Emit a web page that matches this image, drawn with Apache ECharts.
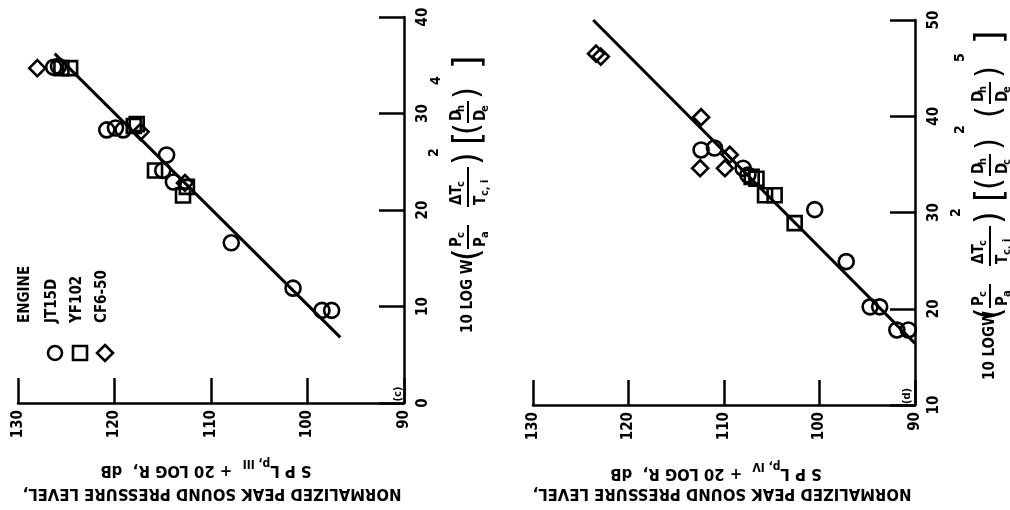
<!DOCTYPE html>
<html><head><meta charset="utf-8">
<script src="https://cdn.jsdelivr.net/npm/echarts@6/dist/echarts.min.js"></script>
<style>html,body{margin:0;padding:0;background:#fff}#c{width:1010px;height:510px}</style>
</head><body><div id="c"></div>
<script>
// ---- data: [SPL (dB), 10 log W(...) parameter] ----
const splTicks = [90, 100, 110, 120, 130];
const c_jt15d = [[126.3,34.8],[125.8,34.9],[120.8,28.3],[119.9,28.5],[119.1,28.3],[114.6,25.7],[115.0,24.1],[113.9,22.9],[107.9,16.6],[101.5,11.9],[98.5,9.6],[97.5,9.6]];
const c_yf102 = [[125.5,34.7],[124.6,34.7],[118.0,28.7],[117.7,28.9],[115.8,24.1],[112.9,21.5],[112.5,22.4]];
const c_cf650 = [[128.0,34.7],[117.3,28.1],[112.7,22.8]];
const c_fit   = [[126.2,36.2],[96.6,6.8]];

const d_jt15d = [[112.4,36.5],[111.0,36.7],[108.0,34.6],[107.5,33.9],[100.5,30.3],[97.2,24.9],[94.7,20.2],[93.7,20.2],[91.9,17.8],[90.7,17.8]];
const d_yf102 = [[107.1,33.7],[106.6,33.5],[105.7,31.8],[104.7,31.8],[102.6,28.9]];
const d_cf650 = [[123.4,46.5],[122.9,46.2],[112.4,39.9],[112.5,34.6],[109.4,36.0],[109.9,34.6]];
const d_fit   = [[123.7,50.0],[90.0,16.4]];

const engines = ['JT15D', 'YF102', 'CF6-50'];
const symbols = ['circle', 'rect', 'diamond'];

// ---- styling ----
const FF = '"DejaVu Sans Condensed","DejaVu Sans",sans-serif';
const B = (s) => 'bold ' + s + 'px ' + FF;

function xAx(grid){
  return {gridIndex:grid, type:'value', min:90, max:130, interval:10, inverse:true, position:'bottom',
    axisLine:{show:true, onZero:false, lineStyle:{color:'#000', width:2.5}},
    axisTick:{show:true, inside:true, length:25, lineStyle:{color:'#000', width:2.5}},
    axisLabel:{rotate:90, margin:7, color:'#000', fontFamily:FF, fontWeight:'bold', fontSize:15},
    splitLine:{show:false}};
}
function yAx(grid, mn, mx){
  return {gridIndex:grid, type:'value', min:mn, max:mx, interval:10, position:'right',
    axisLine:{show:true, onZero:false, lineStyle:{color:'#000', width:2.5}},
    axisTick:{show:true, inside:true, length:25, lineStyle:{color:'#000', width:2.5}},
    axisLabel:{rotate:90, margin:12, color:'#000', fontFamily:FF, fontWeight:'bold', fontSize:15},
    splitLine:{show:false}};
}
function sc(data, k, xi, sz){
  return {type:'scatter', xAxisIndex:xi, yAxisIndex:xi, data:data, symbol:symbols[k], symbolSize:sz,
    itemStyle:{color:'rgba(255,255,255,0)', borderColor:'#000', borderWidth:2.6, opacity:1}, z:3};
}
function fit(data, xi){
  return {type:'line', xAxisIndex:xi, yAxisIndex:xi, data:data, symbol:'none',
    lineStyle:{color:'#000', width:3}, z:2};
}

// ---- graphic helpers (local coords of rotated groups) ----
function t(x, y, s, size, weight, align){
  return {type:'text', x:x, y:y, style:{text:s, font:(weight||'bold')+' '+size+'px '+FF, fill:'#000',
    align:align||'left', verticalAlign:'middle'}};
}
function bar(x1, x2, y){
  return {type:'line', shape:{x1:x1, y1:y, x2:x2, y2:y}, style:{stroke:'#000', lineWidth:2}};
}
function frac(x, w, num, nsub, den, dsub){
  const a = [bar(x, x+w, 0), t(x+2, -11, num, 15), t(x+2, 13, den, 15)];
  const nw = num.length*9, dw = den.length*9;
  a.push(t(x+2+nw, -7, nsub, 11));
  a.push(t(x+2+dw, 17, dsub, 11));
  return a;
}
function rotGroup(x, y, children){
  return {type:'group', x:x, y:y, rotation:Math.PI/2, children:children};
}

const formulaC = [].concat(
  [t(0,0,'10 LOG W',15)],
  [t(72,1,'(',36,'normal')],
  frac(84, 24, 'P','c','P','a'),
  frac(126, 40, 'ΔT','c','T','c, i'),
  [t(168,1,')',36,'normal'), t(176,-34,'2',14)],
  [t(188,1,'[',38,'normal'), t(198,1,'(',34,'normal')],
  frac(210, 22, 'D','h','D','e'),
  [t(234,1,')',34,'normal'), t(248,-32,'4',14), t(264,1,']',38,'normal')]
);
const formulaD = [].concat(
  [t(0,0,'10 LOGW',15)],
  [t(60,1,'(',36,'normal')],
  frac(72, 24, 'P','c','P','a'),
  frac(114, 40, 'ΔT','c','T','c, i'),
  [t(156,1,')',36,'normal'), t(163,-34,'2',14)],
  [t(178,1,'[',38,'normal'), t(190,1,'(',34,'normal')],
  frac(204, 22, 'D','h','D','c'),
  [t(230,1,')',34,'normal'), t(246,-30,'2',14)],
  [t(262,1,'(',34,'normal')],
  frac(276, 22, 'D','h','D','e'),
  [t(302,1,')',34,'normal'), t(318,-30,'5',14), t(336,1,']',38,'normal')]
);

function ytitle(cx, y1, y2, roman){
  return [
    {type:'text', x:cx, y:y1, rotation:Math.PI, style:{text:'NORMALIZED PEAK SOUND PRESSURE LEVEL,', font:B(16.5), fill:'#000', align:'center', verticalAlign:'middle'}},
    {type:'text', x:cx-6, y:y2, rotation:Math.PI, style:{text:'S P L{s|p, '+roman+'}  + 20 LOG R,  dB', font:B(16.5), fill:'#000', align:'center', verticalAlign:'middle',
      rich:{s:{font:B(12), verticalAlign:'bottom', lineHeight:26}}}}
  ];
}

function legend(){
  const g = [{type:'text', x:25, y:323, rotation:Math.PI/2, style:{text:'ENGINE', font:B(15), fill:'#000', align:'left', verticalAlign:'middle'}}];
  const xs = [52, 77, 102];
  engines.forEach((e, i) => {
    g.push({type:'text', x:xs[i], y:323, rotation:Math.PI/2, style:{text:e, font:B(15), fill:'#000', align:'left', verticalAlign:'middle'}});
  });
  const st = {fill:'none', stroke:'#000', lineWidth:2.6};
  g.push({type:'circle', shape:{cx:55, cy:353, r:7}, style:st});
  g.push({type:'rect', shape:{x:73, y:346, width:14, height:14}, style:st});
  g.push({type:'polygon', shape:{points:[[105,345],[113,353],[105,361],[97,353]]}, style:st});
  return g;
}

const chart = echarts.init(document.getElementById('c'), null, {renderer:'canvas'});
chart.setOption({
  animation:false,
  backgroundColor:'#fff',
  grid:[
    {left:18, top:17, width:386, height:386},
    {left:533, top:20, width:382, height:385}
  ],
  xAxis:[xAx(0), xAx(1)],
  yAxis:[yAx(0, 0, 40), yAx(1, 10, 50)],
  series:[
    fit(c_fit, 0), sc(c_jt15d, 0, 0, 15), sc(c_yf102, 1, 0, 14), sc(c_cf650, 2, 0, 16),
    fit(d_fit, 1), sc(d_jt15d, 0, 1, 15), sc(d_yf102, 1, 1, 14), sc(d_cf650, 2, 1, 16)
  ],
  graphic:[].concat(
    ytitle(212, 493, 470, 'III'),
    ytitle(722, 493, 473, 'IV'),
    legend(),
    [
      {type:'text', x:398, y:394, rotation:Math.PI/2, style:{text:'(c)', font:B(11), fill:'#000', align:'center', verticalAlign:'middle'}},
      {type:'text', x:907, y:396, rotation:Math.PI/2, style:{text:'(d)', font:B(11), fill:'#000', align:'center', verticalAlign:'middle'}},
      rotGroup(468, 333, formulaC),
      rotGroup(990, 380, formulaD)
    ]
  )
});
</script></body></html>
